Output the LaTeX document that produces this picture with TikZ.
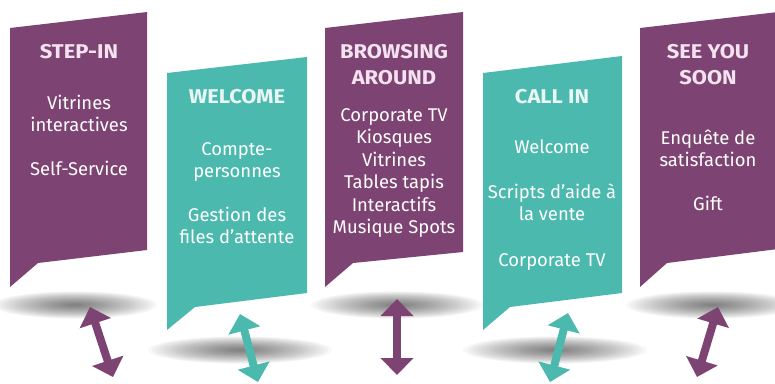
\documentclass[tikz,border=0pt]{standalone}
\usepackage{fontspec}
\setmainfont{Fira Sans}
\newfontfamily\headfont{Fira Sans}[FakeStretch=1.1]
\usetikzlibrary{arrows.meta}

\definecolor{plum}{RGB}{125,67,114}
\definecolor{lagoon}{RGB}{76,185,175}
\definecolor{plumhead}{RGB}{244,226,240}
\definecolor{lagoonhead}{RGB}{232,246,244}

\begin{document}
\begin{tikzpicture}[x=1bp, y=-1bp,
    head/.style={font=\headfont\bfseries\fontsize{20}{26}\selectfont, align=center},
    body/.style={text=white, font=\fontsize{18.5}{22.5}\selectfont, align=center},
    floorshade/.style={fill=black, opacity=0.028},
    swing/.style={line width=8bp, {Triangle[width=32bp,length=17bp]}-{Triangle[width=32bp,length=17bp]}}]
    \useasboundingbox (0,0) rectangle (775,383);
    \clip (0,0) rectangle (775,383);

    % shadows on the floor, stacked thin ellipses
    \foreach \cx/\cy/\rx in {75/305/84, 240/350/94, 397/305/88, 555/350/94, 712/305/88}
        \foreach \s in {0.06,0.1,...,1}
            \fill[floorshade] (\cx,\cy) ellipse [x radius=\s*\rx, y radius=\s*14];

    % the five banners
    \fill[plum] (10,28) -- (147,12) -- (147,250) -- (38,263) -- (10,287) -- cycle;
    \fill[lagoon] (167,73) -- (307,57) -- (307,293) -- (195,307) -- (167,330) -- cycle;
    \fill[plum] (325,28) -- (463,12) -- (463,252) -- (353,263) -- (325,287) -- cycle;
    \fill[lagoon] (483,73) -- (622,56) -- (622,293) -- (510,307) -- (483,330) -- cycle;
    \fill[plum] (640,28) -- (778,12) -- (778,249) -- (667,263) -- (640,287) -- cycle;

    \node[head, text=plumhead] (stepin) at (79,52) {STEP-IN};
    \node[body] (stepinlist) at (79,135) {Vitrines\\interactives\\[21bp]Self-Service};

    \node[head, text=lagoonhead] (welcome) at (237,97) {WELCOME};
    \node[body] (welcomelist) at (237,193) {Compte-\\personnes\\[21bp]Gestion des\\files d’attente};

    \node[head, text=plumhead] (browsing) at (394,65) {BROWSING\\AROUND};
    \node[body] (browsinglist) at (394,173) {Corporate TV\\Kiosques\\Vitrines\\Tables tapis\\Interactifs\\Musique Spots};

    \node[head, text=lagoonhead] (callin) at (552,97) {CALL IN};
    \node[body] (callinlist) at (552,205) {Welcome\\[22bp]Scripts d’aide à\\la vente\\[23bp]Corporate TV};

    \node[head, text=plumhead] (seeyou) at (708,65) {SEE YOU\\SOON};
    \node[body] (seeyoulist) at (708,170) {Enquête de\\satisfaction\\[21bp]Gift};

    % double arrows under the banners
    \coordinate (up1) at (90,307);   \coordinate (down1) at (113,377);
    \coordinate (up2) at (240,314);  \coordinate (down2) at (258,382);
    \coordinate (up3) at (397,299);  \coordinate (down3) at (397,375);
    \coordinate (up4) at (568,313);  \coordinate (down4) at (550,382);
    \coordinate (up5) at (718,307);  \coordinate (down5) at (697,377);

    \draw[swing, plum] (up1) -- (down1);
    \draw[swing, lagoon] (up2) -- (down2);
    \draw[swing, plum] (up3) -- (down3);
    \draw[swing, lagoon] (up4) -- (down4);
    \draw[swing, plum] (up5) -- (down5);
\end{tikzpicture}
\end{document}
